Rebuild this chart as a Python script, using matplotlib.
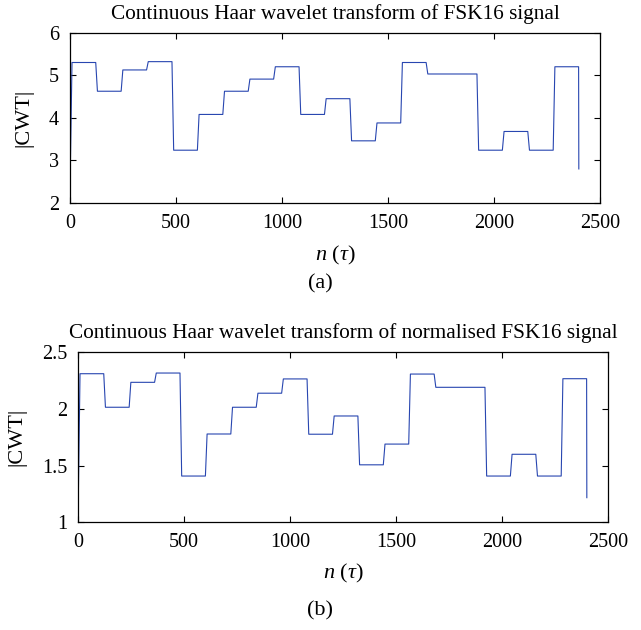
import numpy as np
import matplotlib
matplotlib.use("Agg")
import matplotlib.pyplot as plt

plt.rcParams['font.family'] = ['Liberation Serif', 'DejaVu Serif']
plt.rcParams['mathtext.fontset'] = 'custom'
plt.rcParams['mathtext.rm'] = 'Liberation Serif'
plt.rcParams['mathtext.it'] = 'Liberation Serif:italic'

# Symbol length (samples) and |CWT| level of each of the 20 FSK16 symbols
SYMBOL_LEN = 120
levels_raw = [5.30, 4.625, 5.125, 5.32, 3.24, 4.08, 4.625, 4.91, 5.20, 4.08,
              4.45, 3.46, 3.88, 5.30, 5.03, 5.03, 3.24, 3.68, 3.24, 5.20]
edge_raw = [2.80, 2.80]          # value at n=0 and at the last sample

levels_norm = [2.311, 2.015, 2.235, 2.317, 1.408, 1.779, 2.015, 2.139, 2.265, 1.777,
               1.938, 1.507, 1.690, 2.308, 2.191, 2.191, 1.408, 1.600, 1.408, 2.267]
edge_norm = [1.226, 1.217]

titles = ['Continuous Haar wavelet transform of FSK16 signal',
          'Continuous Haar wavelet transform of normalised FSK16 signal']
panel_tags = ['(a)', '(b)']
ylims = [(2, 6), (1, 2.5)]
yticks = [[2, 3, 4, 5, 6], [1, 1.5, 2, 2.5]]
xticks = [0, 500, 1000, 1500, 2000, 2500]

LINE_COLOR = '#2846b0'
RAMP = 8   # samples the transform takes to move between levels


def build_trace(levels, edges):
    """Turn per-symbol levels into a piecewise-constant trace"""
    xs = [0]
    ys = [edges[0]]
    for i, lev in enumerate(levels):
        start = i * SYMBOL_LEN
        xs += [start + RAMP, start + SYMBOL_LEN]
        ys += [lev, lev]
    xs.append(len(levels) * SYMBOL_LEN + 1)
    ys.append(edges[1])
    return np.array(xs), np.array(ys)


fig = plt.figure(figsize=(6.41, 6.30), dpi=100)
ax_a = fig.add_axes([0.1097, 0.6778, 0.826, 0.2703])
ax_b = fig.add_axes([0.1222, 0.1710, 0.826, 0.2698])

for ax, levels, edges, title, tag, ylim, yt, xpad in zip(
        [ax_a, ax_b], [levels_raw, levels_norm], [edge_raw, edge_norm],
        titles, panel_tags, ylims, yticks, [8, 7]):
    x, y = build_trace(levels, edges)
    ax.plot(x, y, color=LINE_COLOR, linewidth=0.8)
    ax.set_xlim(0, 2500)
    ax.set_ylim(*ylim)
    ax.set_xticks(xticks)
    ax.set_yticks(yt)
    ax.set_yticklabels([f'{v:g}' for v in yt])
    ax.tick_params(direction='in', top=True, right=True, length=4,
                   width=0.8, labelsize=14.5, pad=8)
    for sp in ax.spines.values():
        sp.set_linewidth(0.9)
    ax.set_title(title, fontsize=15.3, pad=10)
    ax.set_xlabel(r'$n$ $(\tau)$', fontsize=16, labelpad=xpad)
    ax.set_ylabel('|CWT|', fontsize=16, labelpad=11)

fig.text(0.5, 1 - 284 / 630, panel_tags[0], ha='center', va='center', fontsize=16)
fig.text(0.5, 1 - 611 / 630, panel_tags[1], ha='center', va='center', fontsize=16)

fig.savefig('out.png', dpi=100)
